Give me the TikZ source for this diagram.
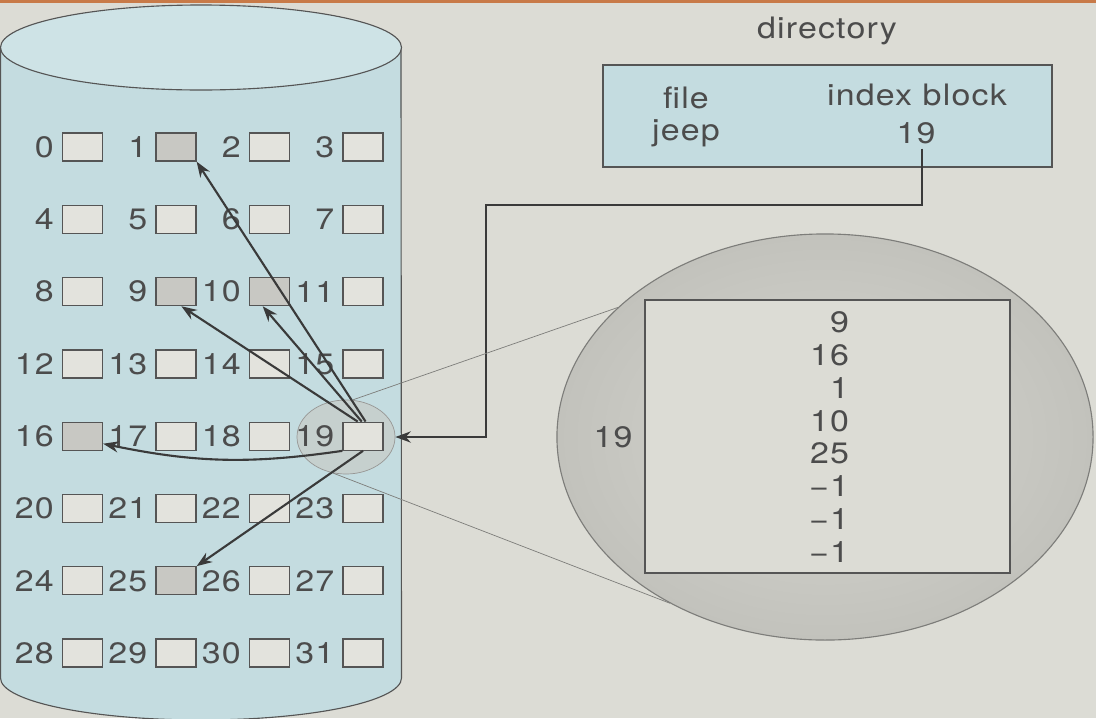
\documentclass[tikz,border=0pt]{standalone}
\usepackage{fontspec}
\setmainfont{TeX Gyre Heros}[FakeStretch=1.15, LetterSpace=4]
\usetikzlibrary{positioning, shapes, arrows.meta, calc}

\definecolor{bgfill}{RGB}{220,220,213}
\definecolor{topbar}{RGB}{200,122,72}
\definecolor{cylfill}{RGB}{196,220,224}
\definecolor{cyltop}{RGB}{206,227,230}
\definecolor{blkfill}{RGB}{227,227,221}
\definecolor{usedfill}{RGB}{200,200,195}
\definecolor{boxline}{RGB}{85,85,85}
\definecolor{txtgray}{RGB}{76,76,76}
\definecolor{arrowgray}{RGB}{58,58,58}
\definecolor{thinline}{RGB}{125,125,122}
\definecolor{ringin}{RGB}{214,214,208}
\definecolor{ringout}{RGB}{194,194,188}

\begin{document}
\begin{tikzpicture}[x=0.025cm, y=-0.025cm, >={Stealth[length=11pt,width=8pt]},
  every node/.style={text=txtgray, font=\fontsize{21}{23.4}\selectfont},
  blk/.style={draw=boxline, line width=0.9pt, minimum width=1cm, minimum height=0.7cm, inner sep=0pt},
  num/.style={inner sep=1.5pt},
  ptr/.style={->, draw=arrowgray, line width=1.5pt}]
\useasboundingbox (0,0) rectangle (1096,718);
\fill[bgfill] (0,0) rectangle (1096,718);
\fill[topbar] (0,0) rectangle (1096,3);

% disk
\filldraw[fill=cylfill, draw=boxline, line width=0.8pt] (0.5,47.5) -- (0.5,678)
  arc[start angle=180, end angle=0, x radius=200.5, y radius=42] -- (401,47.5) -- cycle;
\filldraw[fill=cyltop, draw=boxline, line width=0.8pt] (201,47.5) ellipse[x radius=200.5, y radius=42.5];

\node[ellipse, fill=usedfill, fill opacity=0.6, draw=thinline!80, line width=0.5pt,
  minimum width=2.45cm, minimum height=1.85cm] (focus) at (346,437) {};

% blocks
\foreach \i in {0,...,31} {
  \pgfmathtruncatemacro{\c}{mod(\i,4)}
  \pgfmathtruncatemacro{\r}{div(\i,4)}
  \def\blkcol{blkfill}
  \foreach \u in {1,9,10,16,25} {\ifnum\i=\u \gdef\blkcol{usedfill}\fi}
  \node[blk, fill=\blkcol] (b\i) at ({82.5+93.5*\c}, {147+72.3*\r}) {};
  \node[num, left=4pt of b\i] (n\i) {\i};
}

\draw[ptr] (b19.80) -- (b1.south east);
\draw[ptr] (b19.95) -- (b10.-115);
\draw[ptr] (b19.110) -- (b9.-70);
\draw[ptr] (b19.south west) to[bend left=10] (b16.-20);
\draw[ptr] (b19.south) -- (b25.north east);

% directory
\node (dirtitle) at (827,31) {directory};
\node[draw=boxline, line width=1.1pt, fill=cylfill, minimum width=11.225cm, minimum height=2.55cm] (dir) at (827.5,116) {};
\node (filehd) at (686,98) {file};
\node (idxhd) at (917,95) {index block};
\node (fname) at (686,133) {jeep};
\node (idx19) at (916,133) {19};

\coordinate (bend) at (486,205);
\draw[ptr] ([xshift=0.15cm]idx19.south) |- (bend) |- (focus.east);

% index block
\node[ellipse, draw=thinline, line width=0.8pt, inner color=ringin, outer color=ringout,
  minimum width=13.4cm, minimum height=10.15cm] (zoomview) at (825,437) {};
\draw[thinline, line width=0.5pt] (focus.80) -- (zoomview.148);
\draw[thinline, line width=0.5pt] (focus.250) -- (zoomview.227);
\node[draw=boxline, line width=1.5pt, fill=bgfill, minimum width=9.125cm, minimum height=6.825cm] (idxblk) at (827.5,436.5) {};
\node[align=right] (entries) at (829,437) {9\\16\\1\\10\\25\\−1\\−1\\−1};
\node (idxlabel) at (613,437) {19};
\end{tikzpicture}
\end{document}
